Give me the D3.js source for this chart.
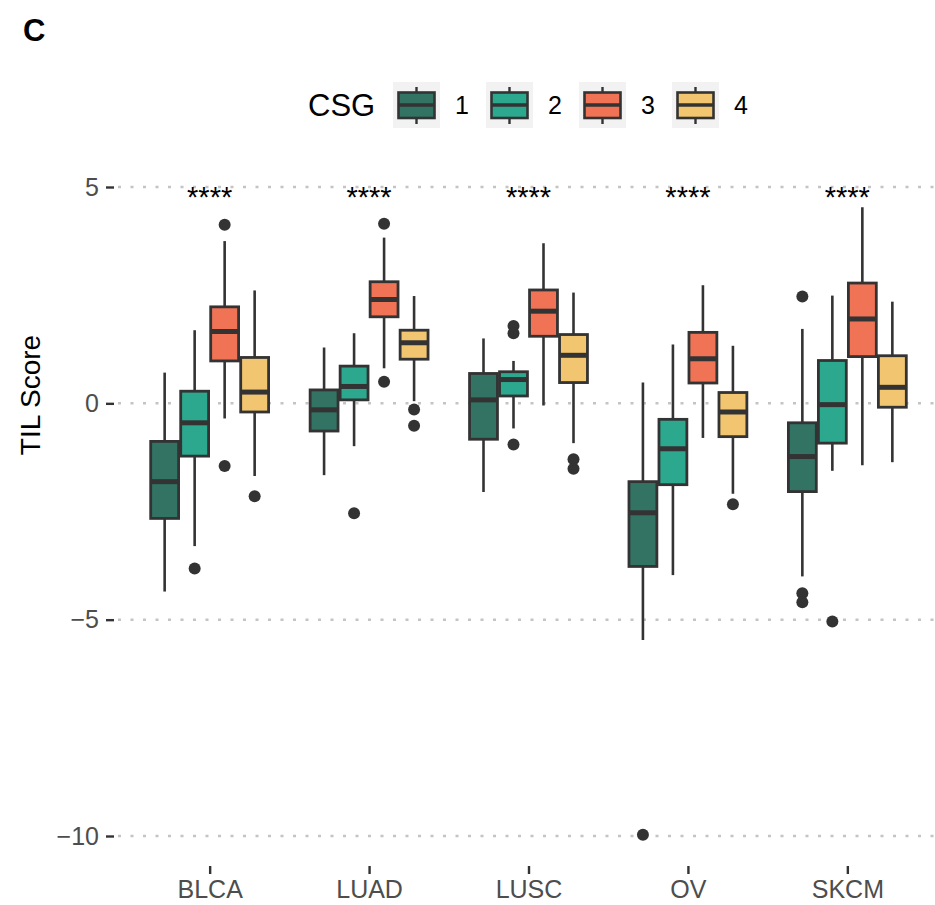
<!DOCTYPE html>
<html>
<head>
<meta charset="utf-8">
<script src="https://cdn.jsdelivr.net/npm/d3@7"></script>
<style>
  body { margin: 0; background: #fff; }
  svg { font-family: "Liberation Sans", Arial, Helvetica, sans-serif; }
</style>
</head>
<body>
<svg id="chart"></svg>
<script>
// categories and groups
const cancers = ["BLCA", "LUAD", "LUSC", "OV", "SKCM"];
const groups = ["1", "2", "3", "4"];
const colors = ["#327364", "#2CA88E", "#F07356", "#F2C671"];
const yTicks = [-10, -5, 0, 5];

// box stats per cancer: [lowWhisker, q1, median, q3, highWhisker]
const csg1 = [[-4.35, -2.66, -1.81, -0.88, 0.71],
              [-1.66, -0.64, -0.15, 0.31, 1.29],
              [-2.05, -0.83, 0.08, 0.69, 1.50],
              [-5.47, -3.77, -2.53, -1.81, 0.48],
              [-4.00, -2.04, -1.23, -0.45, 1.72]];
const csg2 = [[-3.30, -1.22, -0.45, 0.28, 1.69],
              [-0.99, 0.08, 0.39, 0.86, 1.62],
              [-0.58, 0.17, 0.55, 0.73, 0.98],
              [-3.97, -1.88, -1.05, -0.37, 1.36],
              [-1.56, -0.92, -0.03, 0.99, 2.49]];
const csg3 = [[-0.35, 0.98, 1.66, 2.23, 3.75],
              [0.81, 2.00, 2.40, 2.81, 3.83],
              [-0.05, 1.55, 2.13, 2.62, 3.70],
              [-0.80, 0.47, 1.03, 1.64, 2.73],
              [-1.43, 1.08, 1.95, 2.78, 4.53]];
const csg4 = [[-1.68, -0.20, 0.26, 1.06, 2.61],
              [0.05, 1.02, 1.40, 1.69, 2.48],
              [-0.92, 0.48, 1.11, 1.59, 2.56],
              [-2.09, -0.77, -0.20, 0.25, 1.33],
              [-1.36, -0.09, 0.37, 1.10, 2.35]];

// outliers per cancer
const out1 = [[], [], [], [-9.97], [2.47, -4.39, -4.60]];
const out2 = [[-3.82], [-2.54], [1.79, 1.62, -0.95], [], [-5.04]];
const out3 = [[4.13, -1.45], [4.15, 0.50], [], [], []];
const out4 = [[-2.15], [-0.14, -0.52], [-1.29, -1.51], [-2.33], []];

const signif = ["****", "****", "****", "****", "****"];

const width = 935, height = 905;
const stroke = "#333333";

const svg = d3.select("#chart")
    .attr("width", width)
    .attr("height", height);

const x = d3.scalePoint()
    .domain(cancers)
    .range([114, 943])
    .padding(0.6);

const dodge = d3.scaleBand()
    .domain(groups)
    .range([-60, 60]);

const y = d3.scaleLinear()
    .domain([-10, 5])
    .range([836, 187]);

const boxW = dodge.bandwidth() * 0.93;

// gridlines
svg.append("g")
    .selectAll("line")
    .data(yTicks)
    .join("line")
    .attr("x1", 118)
    .attr("x2", width)
    .attr("y1", d => y(d))
    .attr("y2", d => y(d))
    .attr("stroke", "#C4C4C4")
    .attr("stroke-width", 2.5)
    .attr("stroke-dasharray", "3,9.5");

// y axis
const yAxis = svg.append("g")
    .attr("transform", "translate(114,0)")
    .call(d3.axisLeft(y).tickValues(yTicks).tickSize(8).tickPadding(7));
yAxis.select(".domain").remove();
yAxis.selectAll(".tick line").attr("stroke", stroke).attr("stroke-width", 2.4);
yAxis.selectAll(".tick text")
    .attr("fill", "#4D4D4D")
    .style("font-size", "25px")
    .style("font-family", "Liberation Sans, Arial, sans-serif");

// x axis
const xAxis = svg.append("g")
    .attr("transform", "translate(0,866)")
    .call(d3.axisBottom(x).tickSize(8).tickPadding(6));
xAxis.select(".domain").remove();
xAxis.selectAll(".tick line").attr("stroke", stroke).attr("stroke-width", 2.4);
xAxis.selectAll(".tick text")
    .attr("fill", "#4D4D4D")
    .style("font-size", "25px")
    .style("font-family", "Liberation Sans, Arial, sans-serif");

// y axis title
svg.append("text")
    .attr("transform", "translate(40,395) rotate(-90)")
    .attr("text-anchor", "middle")
    .style("font-size", "28px")
    .text("TIL Score");

// panel label
svg.append("text")
    .attr("x", 23)
    .attr("y", 41)
    .style("font-size", "31px")
    .style("font-weight", "bold")
    .text("C");

// build box records
const allStats = [csg1, csg2, csg3, csg4];
const allOut = [out1, out2, out3, out4];
const boxes = [];
const points = [];
groups.forEach((g, gi) => {
  cancers.forEach((c, ci) => {
    const s = allStats[gi][ci];
    boxes.push({cancer: c, group: g, gi, lo: s[0], q1: s[1], med: s[2], q3: s[3], hi: s[4]});
    allOut[gi][ci].forEach(v => points.push({cancer: c, group: g, value: v}));
  });
});

const cx = d => x(d.cancer) + dodge(d.group) + dodge.bandwidth() / 2;

const bg = svg.append("g");

// whiskers
bg.selectAll(".whisker")
    .data(boxes)
    .join("line")
    .attr("class", "whisker")
    .attr("x1", cx).attr("x2", cx)
    .attr("y1", d => y(d.lo)).attr("y2", d => y(d.hi))
    .attr("stroke", stroke)
    .attr("stroke-width", 2.6);

// boxes
bg.selectAll(".box")
    .data(boxes)
    .join("rect")
    .attr("class", "box")
    .attr("x", d => cx(d) - boxW / 2)
    .attr("width", boxW)
    .attr("y", d => y(d.q3))
    .attr("height", d => y(d.q1) - y(d.q3))
    .attr("fill", d => colors[d.gi])
    .attr("stroke", stroke)
    .attr("stroke-width", 2.8);

// medians
bg.selectAll(".median")
    .data(boxes)
    .join("line")
    .attr("class", "median")
    .attr("x1", d => cx(d) - boxW / 2)
    .attr("x2", d => cx(d) + boxW / 2)
    .attr("y1", d => y(d.med)).attr("y2", d => y(d.med))
    .attr("stroke", stroke)
    .attr("stroke-width", 5);

// outliers
bg.selectAll(".outlier")
    .data(points)
    .join("circle")
    .attr("class", "outlier")
    .attr("cx", cx)
    .attr("cy", d => y(d.value))
    .attr("r", 6)
    .attr("fill", stroke);

// significance labels
svg.selectAll(".signif")
    .data(cancers)
    .join("text")
    .attr("class", "signif")
    .attr("x", d => x(d))
    .attr("y", 207)
    .attr("text-anchor", "middle")
    .style("font-size", "29px")
    .text((d, i) => signif[i]);

// legend
const legend = svg.append("g");
legend.append("text")
    .attr("x", 308)
    .attr("y", 116)
    .style("font-size", "31px")
    .text("CSG");

const keyX = d3.scalePoint().domain(groups).range([393, 672]);
const keys = legend.selectAll(".key")
    .data(groups)
    .join("g")
    .attr("class", "key")
    .attr("transform", d => `translate(${keyX(d)},82)`);

keys.append("rect")
    .attr("width", 47).attr("height", 46)
    .attr("fill", "#F2F2F2");
keys.append("line")
    .attr("x1", 23.5).attr("x2", 23.5)
    .attr("y1", 5).attr("y2", 42)
    .attr("stroke", stroke).attr("stroke-width", 2.4);
keys.append("rect")
    .attr("x", 5.5).attr("y", 10.5)
    .attr("width", 36).attr("height", 25.5)
    .attr("fill", (d, i) => colors[i])
    .attr("stroke", stroke).attr("stroke-width", 2.6);
keys.append("line")
    .attr("x1", 5.5).attr("x2", 41.5)
    .attr("y1", 23).attr("y2", 23)
    .attr("stroke", stroke).attr("stroke-width", 3.5);
keys.append("text")
    .attr("x", 69)
    .attr("y", 31.5)
    .attr("text-anchor", "middle")
    .style("font-size", "25px")
    .text(d => d);
</script>
</body>
</html>
